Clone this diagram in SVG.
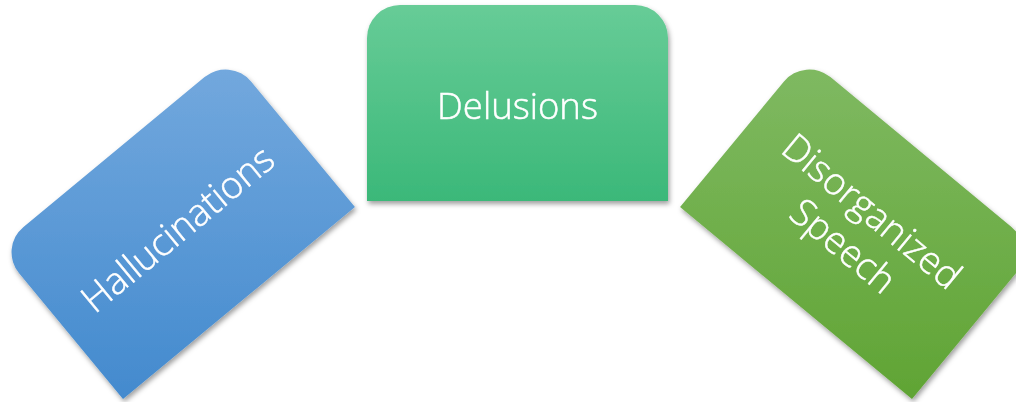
<svg xmlns="http://www.w3.org/2000/svg" width="1016" height="402" viewBox="0 0 1016 402">
  <style>
    .lbl { font-family: "Open Sans", "Noto Sans", "Liberation Sans", sans-serif; font-weight: 300; fill: #ffffff; text-anchor: middle; }
  </style>
  <defs>
    <path id="shape" d="M -150.5,98 L -150.5,-65 A 33 33 0 0 1 -117.5,-98 L 117.5,-98 A 33 33 0 0 1 150.5,-65 L 150.5,98 Z"/>
    <linearGradient id="gGreen" x1="0" y1="-98" x2="0" y2="98" gradientUnits="userSpaceOnUse">
      <stop offset="0" stop-color="#67cc97"/>
      <stop offset="1" stop-color="#3bb879"/>
    </linearGradient>
    <linearGradient id="gBlue" x1="109.6" y1="-132.6" x2="-109.6" y2="132.6" gradientUnits="userSpaceOnUse">
      <stop offset="0" stop-color="#74a9de"/>
      <stop offset="1" stop-color="#438ace"/>
    </linearGradient>
    <linearGradient id="gLime" x1="-109.6" y1="-132.6" x2="109.6" y2="132.6" gradientUnits="userSpaceOnUse">
      <stop offset="0" stop-color="#80ba63"/>
      <stop offset="1" stop-color="#60a434"/>
    </linearGradient>
    <filter id="shadow" x="-20%" y="-20%" width="140%" height="140%">
      <feDropShadow dx="1.5" dy="3" stdDeviation="2.5" flood-color="#000000" flood-opacity="0.38"/>
    </filter>
  </defs>

  <g id="connectors"></g>

  <g id="node-hallucinations" filter="url(#shadow)">
    <g transform="translate(176.5 227.5) rotate(-39.6)">
      <use href="#shape" fill="url(#gBlue)"/>
      <text class="lbl" x="0" y="15" font-size="37.5" stroke="#ffffff" stroke-width="0.5">Hallucinations</text>
    </g>
  </g>

  <g id="node-delusions" filter="url(#shadow)">
    <g transform="translate(517.5 103)">
      <use href="#shape" fill="url(#gGreen)"/>
      <text class="lbl" x="0" y="15.5" font-size="36.5" stroke="#ffffff" stroke-width="0.5">Delusions</text>
    </g>
  </g>

  <g id="node-disorganized-speech" filter="url(#shadow)">
    <g transform="translate(858.5 227.5) rotate(39.6)">
      <use href="#shape" fill="url(#gLime)"/>
      <text class="lbl" font-size="37.5" stroke="#ffffff" stroke-width="0.5"><tspan x="0" y="-8">Disorganized</tspan><tspan x="0" y="37">Speech</tspan></text>
    </g>
  </g>
</svg>
